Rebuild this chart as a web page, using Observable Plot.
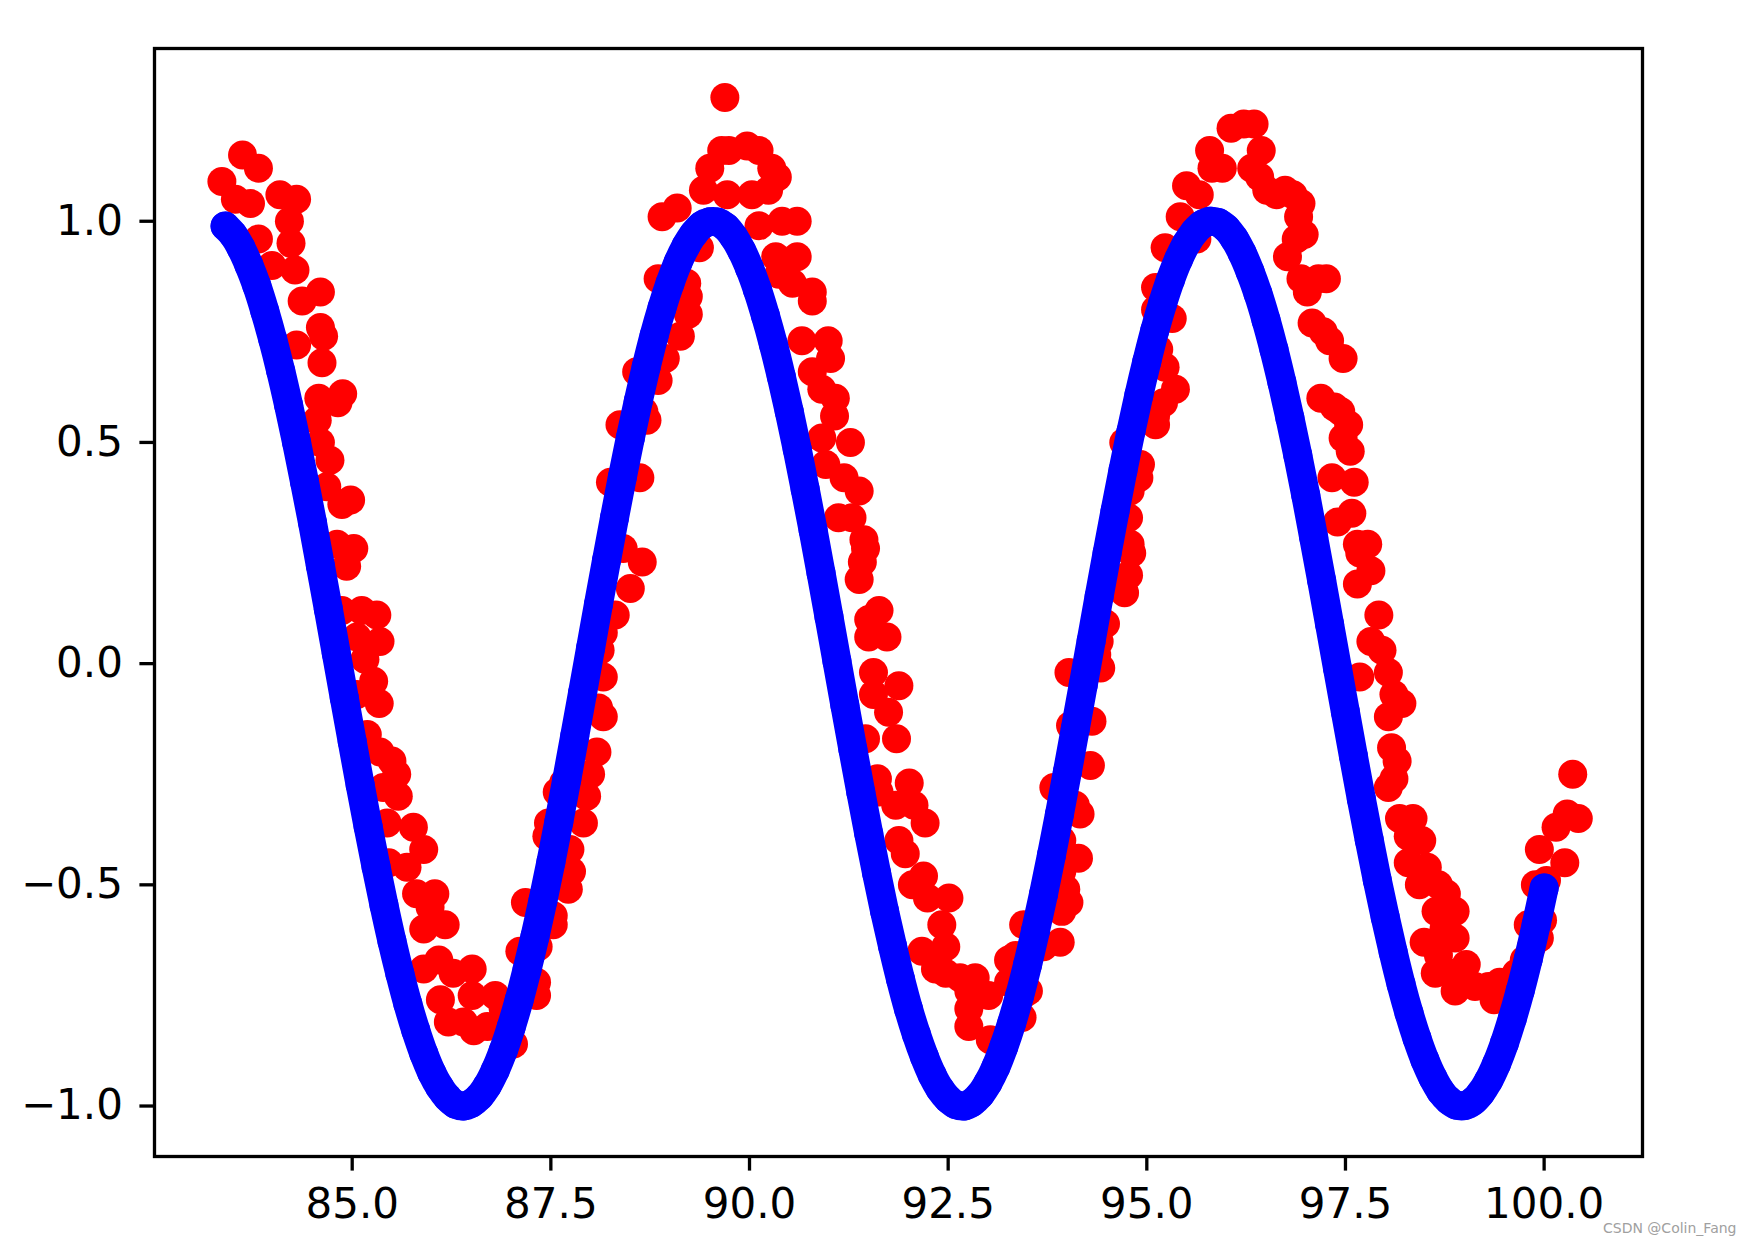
<!DOCTYPE html>
<html><head><meta charset="utf-8">
<script src="https://cdn.jsdelivr.net/npm/d3@7"></script>
<script src="https://cdn.jsdelivr.net/npm/@observablehq/plot@0.6"></script>
<style>
html,body{margin:0;padding:0;background:#fff;}
#wrap{position:relative;width:1755px;height:1248px;}
#wm{position:absolute;left:1603px;top:1220px;font:14px "DejaVu Sans",sans-serif;color:#a0a0a0;white-space:nowrap;}
</style></head><body>
<div id="wrap"><div id="chart"></div><div id="wm">CSDN @Colin_Fang</div></div>
<script>
const xTicks = [85, 87.5, 90, 92.5, 95, 97.5, 100];
const yTicks = [-1, -0.5, 0, 0.5, 1];

const blueX = [83.4,83.5,83.6,83.7,83.8,83.9,84.0,84.1,84.2,84.3,84.4,84.5,84.6,84.7,84.8,84.9,85.0,85.1,85.2,85.3,85.4,85.5,85.6,85.7,85.8,85.9,86.0,86.1,86.2,86.3,86.4,86.5,86.6,86.7,86.8,86.9,87.0,87.1,87.2,87.3,87.4,87.5,87.6,87.7,87.8,87.9,88.0,88.1,88.2,88.3,88.4,88.5,88.6,88.7,88.8,88.9,89.0,89.1,89.2,89.3,89.4,89.5,89.6,89.7,89.8,89.9,90.0,90.1,90.2,90.3,90.4,90.5,90.6,90.7,90.8,90.9,91.0,91.1,91.2,91.3,91.4,91.5,91.6,91.7,91.8,91.9,92.0,92.1,92.2,92.3,92.4,92.5,92.6,92.7,92.8,92.9,93.0,93.1,93.2,93.3,93.4,93.5,93.6,93.7,93.8,93.9,94.0,94.1,94.2,94.3,94.4,94.5,94.6,94.7,94.8,94.9,95.0,95.1,95.2,95.3,95.4,95.5,95.6,95.7,95.8,95.9,96.0,96.1,96.2,96.3,96.4,96.5,96.6,96.7,96.8,96.9,97.0,97.1,97.2,97.3,97.4,97.5,97.6,97.7,97.8,97.9,98.0,98.1,98.2,98.3,98.4,98.5,98.6,98.7,98.8,98.9,99.0,99.1,99.2,99.3,99.4,99.5,99.6,99.7,99.8,99.9,100.0];
const blueY = [0.989,0.970,0.940,0.901,0.854,0.797,0.733,0.662,0.584,0.500,
0.411,0.319,0.221,0.123,0.023,-0.077,-0.176,-0.274,-0.368,-0.459,
-0.546,-0.627,-0.701,-0.769,-0.829,-0.881,-0.924,-0.957,-0.981,-0.996,
-1.000,-0.994,-0.979,-0.954,-0.919,-0.875,-0.822,-0.761,-0.692,-0.617,
-0.536,-0.449,-0.358,-0.262,-0.164,-0.065,0.035,0.135,0.233,0.329,
0.422,0.510,0.593,0.671,0.742,0.805,0.860,0.907,0.944,0.972,
0.991,0.999,0.998,0.987,0.965,0.934,0.894,0.845,0.787,0.722,
0.649,0.570,0.485,0.395,0.302,0.205,0.106,0.006,-0.094,-0.193,
-0.290,-0.384,-0.474,-0.560,-0.639,-0.713,-0.780,-0.838,-0.888,-0.930,
-0.962,-0.984,-0.997,-1.000,-0.992,-0.975,-0.948,-0.912,-0.866,-0.812,
-0.750,-0.680,-0.603,-0.521,-0.433,-0.341,-0.245,-0.147,-0.048,0.052,
0.152,0.250,0.345,0.437,0.525,0.607,0.683,0.753,0.815,0.869,
0.914,0.950,0.976,0.993,1.000,0.997,0.984,0.961,0.928,0.886,
0.836,0.777,0.710,0.636,0.556,0.471,0.381,0.285,0.188,0.089,
-0.011,-0.110,-0.209,-0.306,-0.399,-0.489,-0.573,-0.652,-0.725,-0.790,
-0.847,-0.896,-0.936,-0.967,-0.987,-0.998,-0.999,-0.990,-0.971,-0.943,
-0.905,-0.858,-0.802,-0.739,-0.668,-0.590,-0.507];

const redX = [83.36,83.53,83.62,83.72,83.82,83.82,83.99,84.09,84.21,84.23,84.28,84.30,84.30,84.37,84.56,84.58,84.60,84.60,84.60,84.62,84.64,84.68,84.72,84.81,84.82,84.87,84.87,84.88,84.93,84.98,
85.02,85.06,85.06,85.12,85.16,85.19,85.27,85.31,85.34,85.35,85.35,85.39,85.44,85.46,85.50,85.56,85.58,85.69,85.77,85.81,85.90,85.90,85.90,85.98,86.04,86.09,86.11,86.17,86.21,86.27,
86.40,86.51,86.51,86.53,86.70,86.80,86.90,87.03,87.11,87.18,87.32,87.32,87.34,87.45,87.47,87.53,87.53,87.58,87.66,87.72,87.74,87.76,87.91,87.95,88.00,88.08,88.10,88.12,88.16,88.16,
88.16,88.25,88.31,88.37,88.41,88.50,88.58,88.62,88.65,88.67,88.71,88.85,88.85,88.90,88.94,89.09,89.13,89.21,89.23,89.23,89.37,89.42,89.50,89.65,89.69,89.72,89.74,89.97,90.03,90.12,
90.12,90.24,90.28,90.33,90.35,90.37,90.41,90.54,90.60,90.60,90.66,90.79,90.79,90.79,90.91,90.91,90.96,90.99,91.02,91.07,91.08,91.12,91.19,91.27,91.29,91.38,91.38,91.42,91.44,91.46,
91.46,91.50,91.50,91.56,91.56,91.61,91.63,91.63,91.73,91.75,91.84,91.85,91.88,91.88,91.96,92.01,92.05,92.07,92.17,92.19,92.21,92.24,92.34,92.42,92.47,92.47,92.51,92.65,92.76,92.76,
92.76,92.84,93.01,93.03,93.26,93.26,93.35,93.43,93.43,93.45,93.51,93.70,93.83,93.91,93.93,93.93,93.93,93.98,94.02,94.02,94.04,94.10,94.14,94.16,94.29,94.31,94.37,94.40,94.42,94.48,
94.71,94.72,94.77,94.77,94.79,94.79,94.81,94.90,94.92,95.11,95.11,95.11,95.11,95.15,95.21,95.23,95.23,95.32,95.36,95.42,95.50,95.63,95.66,95.79,95.82,95.95,96.06,96.22,
96.35,96.44,96.32,96.42,96.51,96.63,96.74,96.84,96.94,96.77,96.88,96.91,96.98,96.94,97.02,97.16,97.26,97.08,97.22,97.30,97.47,97.19,97.36,97.44,97.47,97.54,97.56,97.61,97.33,97.40,
97.58,97.65,97.78,97.68,97.82,97.65,97.92,97.82,97.96,97.68,98.04,98.11,98.04,98.21,98.08,98.15,98.11,98.04,98.18,98.35,98.29,98.46,98.29,98.53,98.43,98.67,98.77,98.64,98.88,98.49,
98.74,98.88,98.67,98.63,98.88,99.02,98.88,99.13,99.30,99.37,99.44,99.65,99.75,99.84,99.94,99.80,99.98,99.89,100.03,100.26,99.94,100.15,100.29,100.43,100.36];
const redY = [1.09,1.05,1.15,1.04,1.12,0.96,0.90,1.06,1.00,0.95,0.89,1.05,0.72,0.82,0.55,0.60,0.84,0.76,0.50,0.68,0.74,0.40,0.46,0.27,0.59,0.36,0.12,0.61,0.22,0.37,
0.26,0.06,-0.07,0.12,0.01,-0.16,-0.04,0.11,-0.09,0.05,-0.20,-0.28,-0.36,-0.45,-0.22,-0.25,-0.30,-0.46,-0.37,-0.52,-0.42,-0.60,-0.69,-0.55,-0.52,-0.67,-0.76,-0.59,-0.81,-0.70,
-0.81,-0.69,-0.75,-0.83,-0.82,-0.75,-0.78,-0.86,-0.65,-0.54,-0.75,-0.72,-0.64,-0.39,-0.36,-0.57,-0.59,-0.29,-0.27,-0.51,-0.42,-0.47,-0.36,-0.30,-0.25,-0.20,-0.10,0.03,-0.12,-0.03,
0.07,0.41,0.11,0.54,0.26,0.17,0.66,0.42,0.23,0.57,0.55,0.64,0.87,1.01,0.69,1.03,0.74,0.86,0.79,0.83,0.94,1.07,1.12,1.16,1.28,1.06,1.16,1.17,1.06,1.16,
0.99,1.07,1.12,0.92,1.10,0.88,1.00,0.86,1.00,0.92,0.73,0.84,0.82,0.66,0.62,0.51,0.45,0.73,0.69,0.56,0.60,0.33,0.42,0.50,0.33,0.39,0.19,0.23,0.28,0.26,
-0.17,0.10,0.06,-0.02,-0.07,-0.26,0.12,-0.29,0.06,-0.11,-0.32,-0.17,-0.05,-0.40,-0.43,-0.27,-0.50,-0.32,-0.65,-0.48,-0.36,-0.53,-0.69,-0.59,-0.64,-0.70,-0.53,-0.71,-0.74,-0.78,
-0.82,-0.71,-0.75,-0.85,-0.67,-0.72,-0.66,-0.75,-0.80,-0.59,-0.74,-0.64,-0.28,-0.63,-0.40,-0.47,-0.56,-0.51,-0.54,-0.02,-0.14,-0.32,-0.44,-0.34,-0.23,-0.13,0.02,0.05,-0.01,0.09,
0.50,0.16,0.20,0.33,0.27,0.39,0.25,0.42,0.45,0.54,0.56,0.80,0.85,0.71,0.59,0.67,0.94,0.78,0.62,1.01,1.08,0.96,1.06,1.16,1.12,1.12,1.21,1.22,
1.22,1.16,1.12,1.10,1.07,1.06,1.07,1.06,1.04,0.92,0.96,1.01,0.97,0.87,0.84,0.87,0.87,0.77,0.75,0.73,0.69,0.60,0.58,0.57,0.51,0.54,0.48,0.41,0.42,0.32,
0.34,0.27,0.27,0.25,0.21,0.18,0.11,0.05,0.03,-0.03,-0.02,-0.07,-0.12,-0.09,-0.19,-0.22,-0.26,-0.28,-0.35,-0.35,-0.39,-0.40,-0.45,-0.46,-0.50,-0.50,-0.52,-0.56,-0.56,-0.63,
-0.60,-0.62,-0.66,-0.70,-0.70,-0.68,-0.74,-0.73,-0.73,-0.76,-0.72,-0.70,-0.67,-0.64,-0.62,-0.59,-0.58,-0.50,-0.49,-0.45,-0.42,-0.37,-0.34,-0.35,-0.25];

const blue = blueX.map((x, i) => ({x, y: blueY[i]}));
const red = redX.map((x, i) => ({x, y: redY[i]}));
const fmtY = d => (d < 0 ? "\u2212" : "") + Math.abs(d).toFixed(1);

const chart = Plot.plot({
  width: 1755, height: 1248,
  marginLeft: 154, marginRight: 113, marginTop: 48, marginBottom: 92,
  style: {fontFamily: "DejaVu Sans", fontSize: "42px", color: "black", background: "white"},
  x: {domain: [82.512, 101.238]},
  y: {domain: [-1.1141, 1.3905]},
  marks: [
    Plot.dot(red, {x: "x", y: "y", r: 14.5, fill: "#ff0000"}),
    Plot.line(blue, {x: "x", y: "y", stroke: "#0000ff", strokeWidth: 29, curve: "catmull-rom", strokeLinecap: "round", strokeLinejoin: "round"}),
    Plot.dot(blue, {x: "x", y: "y", r: 14.5, fill: "#0000ff"}),
    Plot.axisX({ticks: xTicks, tickFormat: d => d.toFixed(1), tickSize: 14.6, tickPadding: 17, strokeWidth: 3.3, fontSize: 42, label: null}),
    Plot.axisY({ticks: yTicks, tickFormat: fmtY, tickSize: 14.6, tickPadding: 17, strokeWidth: 3.3, fontSize: 42, label: null}),
    Plot.frame({stroke: "black", strokeWidth: 3.3})
  ]
});
document.getElementById("chart").appendChild(chart);
</script>
</body></html>
